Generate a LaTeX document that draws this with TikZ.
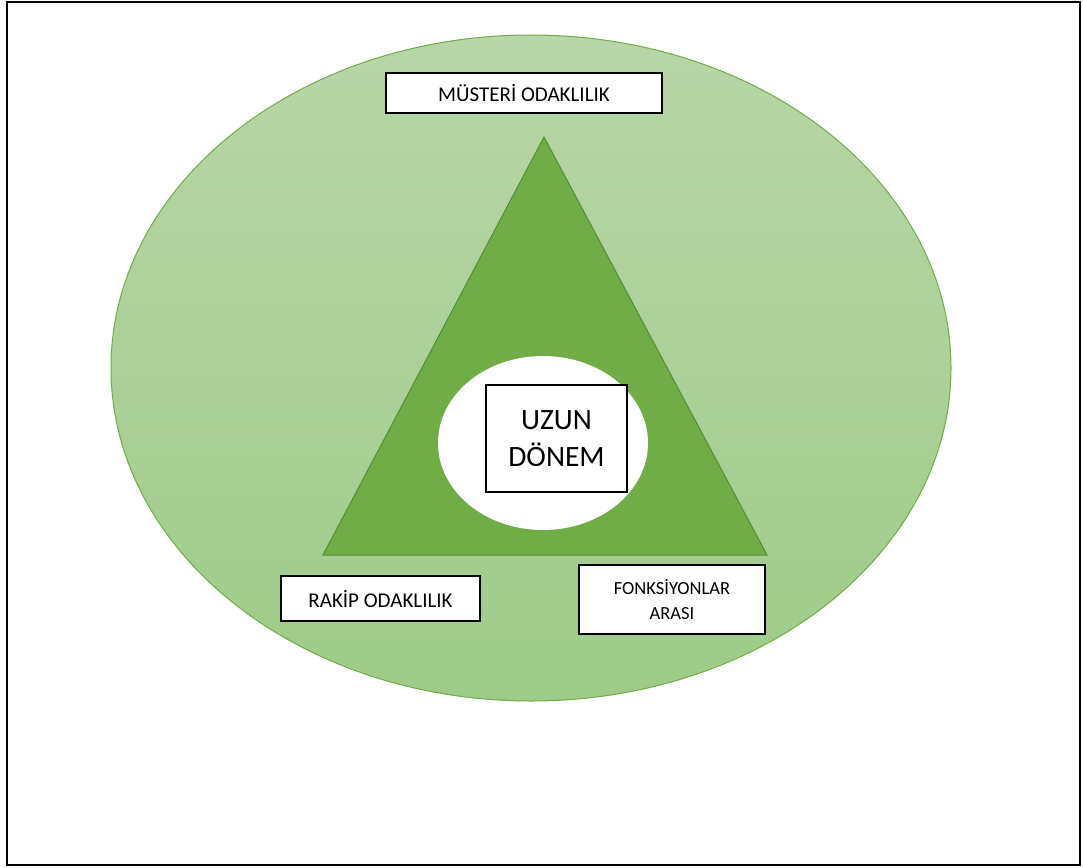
\documentclass[tikz,border=0pt]{standalone}
\usepackage{fontspec}
\setmainfont{Carlito}
\usetikzlibrary{shapes.geometric}
\definecolor{ovaltop}{RGB}{184,214,168}
\definecolor{ovalbot}{RGB}{158,203,136}
\definecolor{leaf}{RGB}{112,173,71}
\definecolor{leafdark}{RGB}{84,140,52}
\tikzset{
  label box/.style={draw=black, line width=1.2pt, fill=white, text=black,
    inner sep=0pt, align=center, font=\fontsize{21}{25}\selectfont},
}
\begin{document}
\begin{tikzpicture}[x=1pt,y=-1pt]
  \useasboundingbox (0,0) rectangle (1083,867);
  \fill[white] (0,0) rectangle (1083,867);
  \draw[line width=1.5pt] (7,2) rectangle (1080,865);

  % outer oval
  \node (oval) [ellipse, minimum width=840pt, minimum height=666pt,
    top color=ovaltop, bottom color=ovalbot, draw=leaf, line width=1pt]
    at (531,368) {};

  % triangle
  \coordinate (apex) at (544,137);
  \coordinate (bl) at (323,555);
  \coordinate (br) at (767,555);
  \filldraw[fill=leaf, draw=leafdark, line width=1pt] (apex) -- (bl) -- (br) -- cycle;

  % inner white oval
  \node (core) [ellipse, minimum width=210pt, minimum height=174pt,
    fill=white, inner sep=0pt] at (543,443) {};

  % labels
  \node (uzun) [label box, minimum width=141pt, minimum height=107pt,
    font=\fontsize{29.5}{37}\selectfont] at (556.5,438.5) {UZUN\\DÖNEM};
  \node (musteri) [label box, minimum width=276pt, minimum height=40pt]
    at (524,93) {MÜSTERİ ODAKLILIK};
  \node (rakip) [label box, minimum width=199pt, minimum height=45pt]
    at (380.5,598.5) {RAKİP ODAKLILIK};
  \node (fonk) [label box, minimum width=186pt, minimum height=69pt,
    font=\fontsize{18.5}{25}\selectfont] at (672,599.5) {FONKSİYONLAR\\ARASI};
\end{tikzpicture}
\end{document}
